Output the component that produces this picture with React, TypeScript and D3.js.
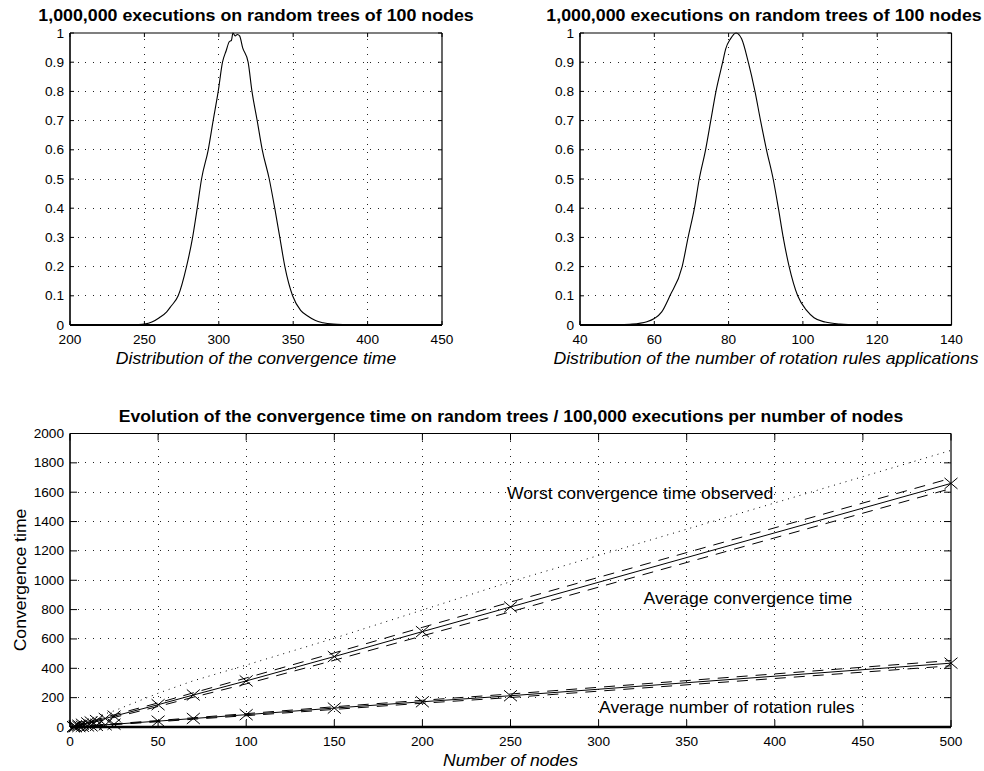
import React from "react";
import * as d3 from "d3";

// ---- data ----

// top-left: normalized distribution of the convergence time (100 nodes)
const convDistX = [200, 240, 245, 250, 255, 260, 265, 268, 272.7, 278.3, 282.4, 285.5, 288.4, 292.9, 296.2, 299.6, 302.5, 305, 307, 308.5, 309.5, 311, 312.5, 314, 316, 319.7, 322.3, 325.8, 329.2, 333.9, 337.6, 341, 344.4, 349.6, 355, 360, 365, 370, 377, 385, 395, 450];
const convDistY = [0, 0, 0.001, 0.003, 0.01, 0.025, 0.045, 0.065, 0.1, 0.2, 0.3, 0.4, 0.5, 0.6, 0.7, 0.8, 0.9, 0.94, 0.97, 0.975, 1.0, 0.99, 0.995, 0.99, 0.95, 0.9, 0.8, 0.7, 0.6, 0.5, 0.4, 0.3, 0.2, 0.1, 0.05, 0.03, 0.015, 0.008, 0.003, 0.001, 0, 0];

// top-right: normalized distribution of the number of rotation rules applications
const rotDistX = [40, 46, 50, 54, 58, 60, 62, 64.2, 67.5, 69.1, 70.8, 72.1, 73.8, 75.2, 76.6, 78.4, 79.2, 80.5, 82, 83.5, 85.3, 87.1, 88.6, 90.2, 92, 93.4, 94.7, 96.3, 98.6, 101, 103, 106, 110, 115, 120, 140];
const rotDistY = [0, 0, 0.001, 0.003, 0.011, 0.022, 0.045, 0.1, 0.2, 0.3, 0.4, 0.5, 0.6, 0.7, 0.8, 0.9, 0.945, 0.98, 1.0, 0.98, 0.9, 0.8, 0.7, 0.6, 0.5, 0.4, 0.3, 0.2, 0.1, 0.05, 0.025, 0.01, 0.003, 0.0005, 0, 0];

// bottom: evolution with the number of nodes
const nodes = [2, 3, 5, 7, 10, 12, 15, 20, 25, 50, 70, 100, 150, 200, 250, 500];
const avgConv = [3, 6, 12, 19, 28, 34, 44, 58, 74, 152, 218, 314, 480, 650, 818, 1660];
const convUpper = [4, 8, 15, 23, 33, 40, 51, 66, 83, 164, 233, 334, 505, 679, 851, 1695];
const convLower = [2, 4, 9, 15, 23, 28, 37, 50, 65, 140, 203, 294, 455, 621, 785, 1625];
const worstConv = [6, 11, 22, 33, 47, 55, 70, 90, 110, 230, 315, 422, 605, 797, 990, 1885];
const avgRot = [1, 2, 3, 5, 7, 8, 11, 15, 19, 40, 58, 84, 129, 172, 213, 435];
const rotUpper = [2, 3, 4, 6, 9, 10, 13, 18, 22, 44, 63, 91, 138, 182, 225, 453];
const rotLower = [0, 1, 2, 4, 5, 6, 9, 12, 16, 36, 53, 77, 120, 162, 201, 417];

const distTitle = "1,000,000 executions on random trees of 100 nodes";
const evoTitle =
    "Evolution of the convergence time on random trees / 100,000 executions per number of nodes";

const FONT = "'Liberation Sans', Arial, Helvetica, sans-serif";
const SX = 1.1; // the original export is slightly stretched horizontally

function Txt({ x, y, size, anchor = "middle", bold = false, italic = false, rotate = 0, sx = SX, children }) {
    return (
        <text
            transform={`translate(${x},${y})${rotate ? ` rotate(${rotate})` : ""} scale(${sx},1)`}
            textAnchor={anchor}
            fontFamily={FONT}
            fontSize={size}
            fontWeight={bold ? "bold" : "normal"}
            fontStyle={italic ? "italic" : "normal"}
            fill="#000"
        >
            {children}
        </text>
    );
}

function Axes({ x, y, xTicks, yTicks, yFmt, tickLen, bottomWidth = 1.2 }) {
    const [l, r] = x.range();
    const [b, t] = y.range();
    return (
        <g>
            {/* dotted grid */}
            <g stroke="#222" strokeWidth={1} strokeDasharray="1 6.5" shapeRendering="crispEdges">
                {xTicks.slice(1, -1).map((v) => (
                    <line key={"gx" + v} x1={x(v)} x2={x(v)} y1={b} y2={t} />
                ))}
                {yTicks.slice(1, -1).map((v) => (
                    <line key={"gy" + v} x1={l} x2={r} y1={y(v)} y2={y(v)} />
                ))}
            </g>
            {/* inward ticks on all sides */}
            <g stroke="#000" strokeWidth={1}>
                {xTicks.map((v) => (
                    <g key={"tx" + v}>
                        <line x1={x(v)} x2={x(v)} y1={b} y2={b - tickLen} />
                        <line x1={x(v)} x2={x(v)} y1={t} y2={t + tickLen} />
                    </g>
                ))}
                {yTicks.map((v) => (
                    <g key={"ty" + v}>
                        <line x1={l} x2={l + tickLen} y1={y(v)} y2={y(v)} />
                        <line x1={r} x2={r - tickLen} y1={y(v)} y2={y(v)} />
                    </g>
                ))}
            </g>
            {/* box */}
            <g stroke="#000" fill="none">
                <line x1={l} x2={r} y1={t} y2={t} strokeWidth={1.2} />
                <line x1={r} x2={r} y1={t} y2={b} strokeWidth={1.2} />
                <line x1={l} x2={l} y1={t} y2={b} strokeWidth={1.6} />
                <line x1={l} x2={r} y1={b} y2={b} strokeWidth={bottomWidth} />
            </g>
            {xTicks.map((v) => (
                <Txt key={"lx" + v} x={x(v)} y={b + 19} size={13} sx={1.05}>
                    {String(v)}
                </Txt>
            ))}
            {yTicks.map((v) => (
                <Txt key={"ly" + v} x={l - 6} y={y(v) + 4.5} size={13} sx={1.05} anchor="end">
                    {yFmt(v)}
                </Txt>
            ))}
        </g>
    );
}

function Cross({ cx, cy }) {
    return <path d={`M${cx - 6.5},${cy - 5.5}L${cx + 6.5},${cy + 5.5}M${cx - 6.5},${cy + 5.5}L${cx + 6.5},${cy - 5.5}`} />;
}

export default function App() {
    const distFmt = (v) => (v === 0 ? "0" : v === 1 ? "1" : d3.format(".1f")(v));
    const probTicks = d3.range(0, 11).map((i) => i / 10);

    // top-left
    const x1 = d3.scaleLinear().domain([200, 450]).range([70, 442]);
    const y1 = d3.scaleLinear().domain([0, 1]).range([325, 33]);
    // top-right
    const x2 = d3.scaleLinear().domain([40, 140]).range([580, 951.5]);
    const y2 = y1;
    // bottom
    const x3 = d3.scaleLinear().domain([0, 500]).range([70, 951]);
    const y3 = d3.scaleLinear().domain([0, 2000]).range([727, 433.5]);

    const line1 = d3.line().curve(d3.curveMonotoneX).x((d) => x1(d[0])).y((d) => y1(d[1]));
    const line2 = d3.line().curve(d3.curveMonotoneX).x((d) => x2(d[0])).y((d) => y2(d[1]));
    const line3 = d3.line().x((d) => x3(d[0])).y((d) => y3(d[1]));
    const pts = (xs, ys) => xs.map((v, i) => [v, ys[i]]);

    return (
        <div style={{ position: "fixed", left: 0, top: 0, background: "#fff" }}>
            <svg width={984} height={771} viewBox="0 0 984 771" style={{ display: "block" }}>
                <rect width={984} height={771} fill="#fff" />

                {/* ---- top-left ---- */}
                <Axes x={x1} y={y1} xTicks={d3.range(200, 451, 50)} yTicks={probTicks} yFmt={distFmt} tickLen={4} bottomWidth={2} />
                <path d={line1(pts(convDistX, convDistY))} fill="none" stroke="#000" strokeWidth={1.1} />
                <Txt x={256} y={20.5} size={16.2} bold>
                    {distTitle}
                </Txt>
                <Txt x={256} y={364} size={16} italic>
                    Distribution of the convergence time
                </Txt>

                {/* ---- top-right ---- */}
                <Axes x={x2} y={y2} xTicks={d3.range(40, 141, 20)} yTicks={probTicks} yFmt={distFmt} tickLen={4} bottomWidth={2} />
                <path d={line2(pts(rotDistX, rotDistY))} fill="none" stroke="#000" strokeWidth={1.1} />
                <Txt x={764} y={20.5} size={16.2} bold>
                    {distTitle}
                </Txt>
                <Txt x={766} y={364} size={16} italic>
                    Distribution of the number of rotation rules applications
                </Txt>

                {/* ---- bottom ---- */}
                <Axes x={x3} y={y3} xTicks={d3.range(0, 501, 50)} yTicks={d3.range(0, 2001, 200)} yFmt={(v) => String(v)} tickLen={7} bottomWidth={2.6} />
                <g fill="none" stroke="#000" strokeWidth={1}>
                    <path d={line3(pts(nodes, worstConv))} strokeDasharray="1 5" />
                    <path d={line3(pts(nodes, convUpper))} strokeDasharray="11 8" />
                    <path d={line3(pts(nodes, convLower))} strokeDasharray="11 8" />
                    <path d={line3(pts(nodes, avgConv))} />
                    <path d={line3(pts(nodes, rotUpper))} strokeDasharray="11 8" />
                    <path d={line3(pts(nodes, rotLower))} strokeDasharray="11 8" />
                    <path d={line3(pts(nodes, avgRot))} />
                    {nodes.map((n, i) => (
                        <g key={"m" + n}>
                            <Cross cx={x3(n)} cy={y3(avgConv[i])} />
                            <Cross cx={x3(n)} cy={y3(avgRot[i])} />
                        </g>
                    ))}
                </g>
                <Txt x={511} y={421.5} size={16} bold>
                    {evoTitle}
                </Txt>
                <Txt x={510.5} y={766} size={16} italic>
                    Number of nodes
                </Txt>
                <Txt x={25.5} y={580} size={16} rotate={-90}>
                    Convergence time
                </Txt>
                <Txt x={507} y={499} size={16} anchor="start">
                    Worst convergence time observed
                </Txt>
                <Txt x={643.5} y={604} size={16} anchor="start">
                    Average convergence time
                </Txt>
                <Txt x={599} y={713} size={16} anchor="start">
                    Average number of rotation rules
                </Txt>
            </svg>
        </div>
    );
}
